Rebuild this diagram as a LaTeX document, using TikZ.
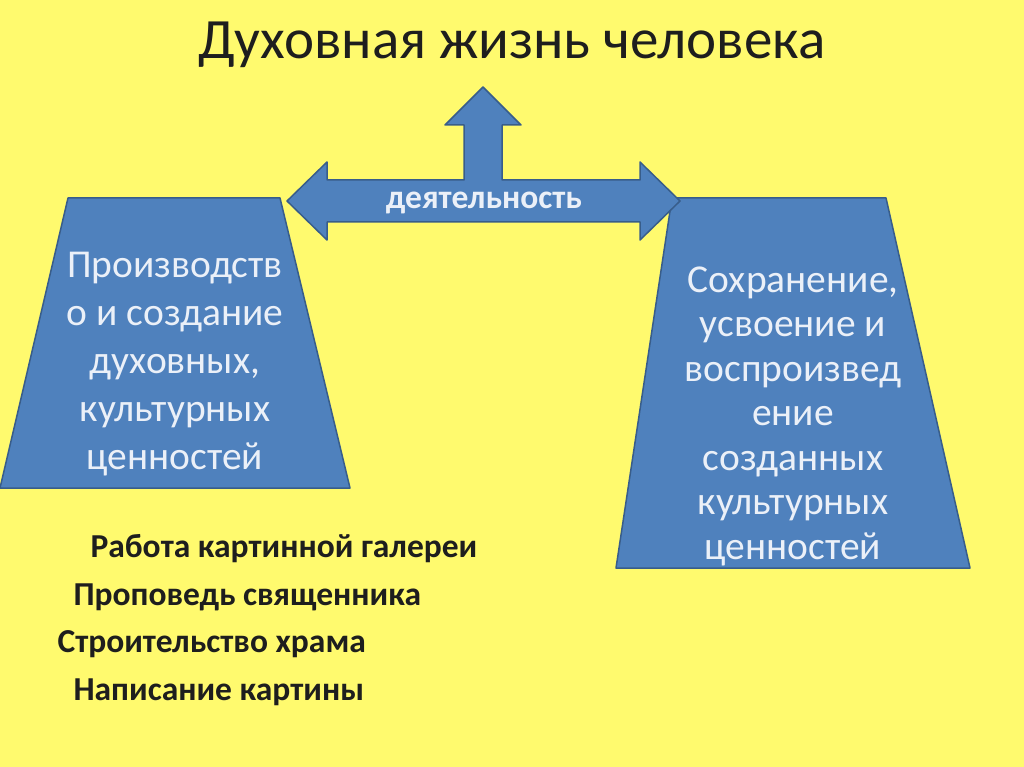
\documentclass[tikz,border=0pt]{standalone}
\usepackage{fontspec}
\setmainfont{Carlito}
\definecolor{bg}{RGB}{255,250,110}
\definecolor{bfill}{RGB}{79,129,189}
\definecolor{bline}{RGB}{56,93,138}
\definecolor{txt}{RGB}{30,30,30}
\definecolor{wtxt}{RGB}{235,240,248}
\begin{document}
\begin{tikzpicture}[x=1pt,y=-1pt,
  shapebox/.style={fill=bfill,draw=bline,line width=1.5pt,line join=round},
  trtext/.style={text=wtxt,align=center},
  item/.style={anchor=west,font=\bfseries\fontsize{33.5}{40}\selectfont,text=txt}]
\fill[bg] (0,0) rectangle (1024,767);
\useasboundingbox (0,0) rectangle (1024,767);
\node[font=\fontsize{57}{64}\selectfont,text=txt] (title) at (512,45) {Духовная жизнь человека};
\draw[shapebox] (68,198) -- (280,198) -- (350,488) -- (0,488) -- cycle;
\draw[shapebox] (672,198) -- (886,198) -- (970,568) -- (616,568) -- cycle;
\node[trtext,font=\fontsize{39.5}{48}\selectfont] (left) at (175,364) {Производств\\о и создание\\духовных,\\культурных\\ценностей};
\node[trtext,font=\fontsize{39.5}{44.5}\selectfont] (right) at (793,416) {Сохранение,\\усвоение и\\воспроизвед\\ение\\созданных\\культурных\\ценностей};
\draw[shapebox] (287,201) -- (327,162) -- (327,180) -- (464,180) -- (464,125) -- (445,125)
  -- (483,87) -- (521,125) -- (502,125) -- (502,180) -- (640,180) -- (640,162) -- (680,201)
  -- (640,240) -- (640,222) -- (327,222) -- (327,240) -- cycle;
\node[font=\bfseries\fontsize{33.5}{40}\selectfont,text=wtxt] (act) at (484,203) {деятельность};
\node[item] (i1) at (87,549) {Работа картинной галереи};
\node[item] (i2) at (70,597) {Проповедь священника};
\node[item] (i3) at (54,644) {Строительство храма};
\node[item] (i4) at (70,692) {Написание картины};
\end{tikzpicture}
\end{document}
